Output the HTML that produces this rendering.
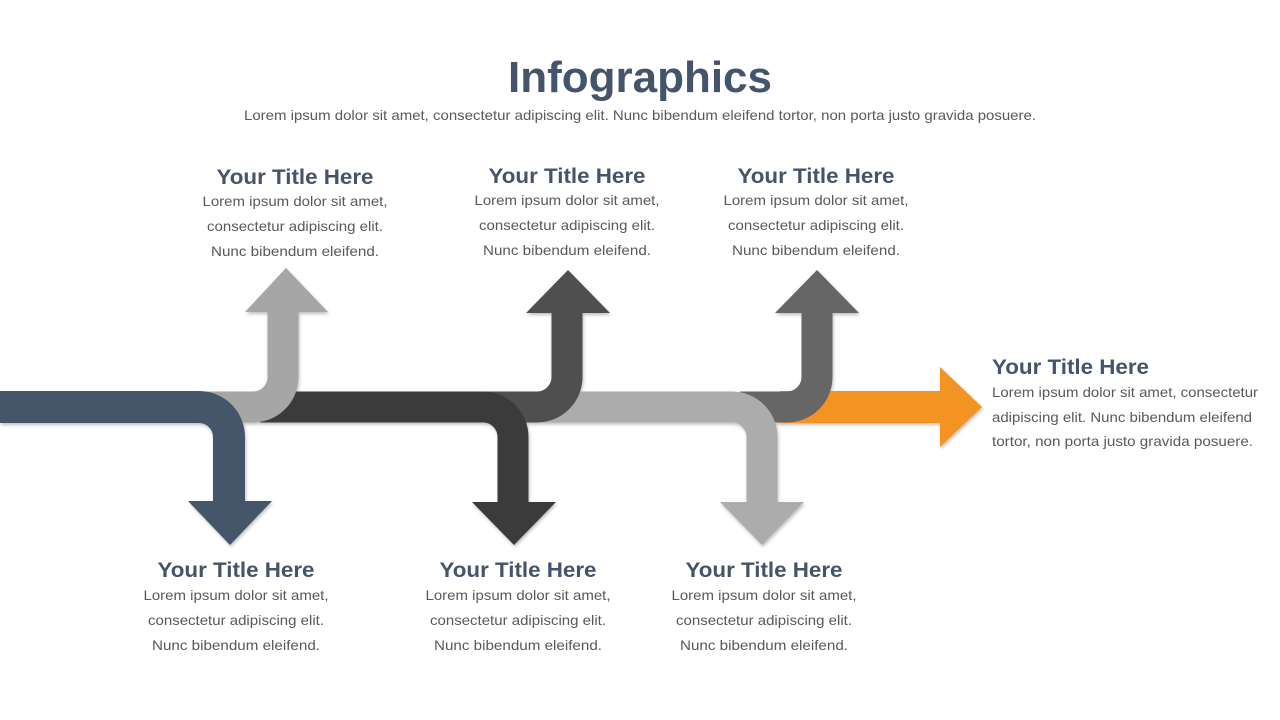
<!DOCTYPE html>
<html><head><meta charset="utf-8"><style>
html,body{margin:0;padding:0;background:#fff;}
svg{display:block;}
.t{font-family:"Liberation Sans",sans-serif;font-weight:bold;fill:#44546a;}
.b{font-family:"Liberation Sans",sans-serif;fill:#595959;font-size:14px;}
</style></head><body>
<svg width="1280" height="720" viewBox="0 0 1280 720" xmlns="http://www.w3.org/2000/svg">
<defs><filter id="sh" x="-20%" y="-20%" width="140%" height="140%"><feDropShadow dx="1" dy="2" stdDeviation="1.5" flood-color="#000" flood-opacity="0.25"/></filter></defs>
<text class="t" x="640" y="92" font-size="44" text-anchor="middle" textLength="264" lengthAdjust="spacingAndGlyphs">Infographics</text>
<text class="b" x="640" y="120" text-anchor="middle" textLength="792" lengthAdjust="spacingAndGlyphs">Lorem ipsum dolor sit amet, consectetur adipiscing elit. Nunc bibendum eleifend tortor, non porta justo gravida posuere.</text>

<g filter="url(#sh)">
<!-- orange -->
<path d="M780 407 H942" stroke="#f39320" stroke-width="32" fill="none"/>
<polygon points="940,367 982,407 940,447" fill="#f39320"/>
<!-- up3 -->
<path d="M740 407 H787 A30 30 0 0 0 817 377 V311" stroke="#666666" stroke-width="31" fill="none"/>
<polygon points="775,313 859,313 817,270" fill="#666666"/>
<!-- down3 -->
<path d="M540 407 H732 A30 30 0 0 1 762 437 V503" stroke="#acacac" stroke-width="31" fill="none"/>
<polygon points="720,502 804,502 762,545" fill="#acacac"/>
<!-- up2 -->
<path d="M470 407 H537 A30 30 0 0 0 567 377 V311" stroke="#505050" stroke-width="31" fill="none"/>
<polygon points="526,313 610,313 568,270" fill="#505050"/>
<!-- down2 -->
<path d="M260 407 H483 A30 30 0 0 1 513 437 V503" stroke="#3b3b3b" stroke-width="31" fill="none"/>
<polygon points="472,502 556,502 514,545" fill="#3b3b3b"/>
<!-- up1 -->
<path d="M190 407 H253 A30 30 0 0 0 283 377 V311" stroke="#a6a6a6" stroke-width="31" fill="none"/>
<polygon points="245,312 328,312 286,268" fill="#a6a6a6"/>
<!-- navy -->
<path d="M0 407 H199 A30 30 0 0 1 229 437 V503" stroke="#44546a" stroke-width="32" fill="none"/>
<polygon points="188,501 272,501 230,545" fill="#44546a"/>
</g>

<g text-anchor="middle">
<text class="t" x="295" y="184" font-size="21" textLength="157" lengthAdjust="spacingAndGlyphs">Your Title Here</text>
<text class="b" x="295" y="206" textLength="185" lengthAdjust="spacingAndGlyphs">Lorem ipsum dolor sit amet,</text>
<text class="b" x="295" y="231" textLength="176" lengthAdjust="spacingAndGlyphs">consectetur adipiscing elit.</text>
<text class="b" x="295" y="256" textLength="168" lengthAdjust="spacingAndGlyphs">Nunc bibendum eleifend.</text>

<text class="t" x="567" y="183" font-size="21" textLength="157" lengthAdjust="spacingAndGlyphs">Your Title Here</text>
<text class="b" x="567" y="205" textLength="185" lengthAdjust="spacingAndGlyphs">Lorem ipsum dolor sit amet,</text>
<text class="b" x="567" y="230" textLength="176" lengthAdjust="spacingAndGlyphs">consectetur adipiscing elit.</text>
<text class="b" x="567" y="255" textLength="168" lengthAdjust="spacingAndGlyphs">Nunc bibendum eleifend.</text>

<text class="t" x="816" y="183" font-size="21" textLength="157" lengthAdjust="spacingAndGlyphs">Your Title Here</text>
<text class="b" x="816" y="205" textLength="185" lengthAdjust="spacingAndGlyphs">Lorem ipsum dolor sit amet,</text>
<text class="b" x="816" y="230" textLength="176" lengthAdjust="spacingAndGlyphs">consectetur adipiscing elit.</text>
<text class="b" x="816" y="255" textLength="168" lengthAdjust="spacingAndGlyphs">Nunc bibendum eleifend.</text>

<text class="t" x="236" y="577" font-size="21" textLength="157" lengthAdjust="spacingAndGlyphs">Your Title Here</text>
<text class="b" x="236" y="600" textLength="185" lengthAdjust="spacingAndGlyphs">Lorem ipsum dolor sit amet,</text>
<text class="b" x="236" y="625" textLength="176" lengthAdjust="spacingAndGlyphs">consectetur adipiscing elit.</text>
<text class="b" x="236" y="650" textLength="168" lengthAdjust="spacingAndGlyphs">Nunc bibendum eleifend.</text>

<text class="t" x="518" y="577" font-size="21" textLength="157" lengthAdjust="spacingAndGlyphs">Your Title Here</text>
<text class="b" x="518" y="600" textLength="185" lengthAdjust="spacingAndGlyphs">Lorem ipsum dolor sit amet,</text>
<text class="b" x="518" y="625" textLength="176" lengthAdjust="spacingAndGlyphs">consectetur adipiscing elit.</text>
<text class="b" x="518" y="650" textLength="168" lengthAdjust="spacingAndGlyphs">Nunc bibendum eleifend.</text>

<text class="t" x="764" y="577" font-size="21" textLength="157" lengthAdjust="spacingAndGlyphs">Your Title Here</text>
<text class="b" x="764" y="600" textLength="185" lengthAdjust="spacingAndGlyphs">Lorem ipsum dolor sit amet,</text>
<text class="b" x="764" y="625" textLength="176" lengthAdjust="spacingAndGlyphs">consectetur adipiscing elit.</text>
<text class="b" x="764" y="650" textLength="168" lengthAdjust="spacingAndGlyphs">Nunc bibendum eleifend.</text>
</g>

<text class="t" x="992" y="374" font-size="21" textLength="157" lengthAdjust="spacingAndGlyphs">Your Title Here</text>
<text class="b" x="992" y="397" textLength="266" lengthAdjust="spacingAndGlyphs">Lorem ipsum dolor sit amet, consectetur</text>
<text class="b" x="992" y="422" textLength="260" lengthAdjust="spacingAndGlyphs">adipiscing elit. Nunc bibendum eleifend</text>
<text class="b" x="992" y="446" textLength="261" lengthAdjust="spacingAndGlyphs">tortor, non porta justo gravida posuere.</text>
</svg>
</body></html>
